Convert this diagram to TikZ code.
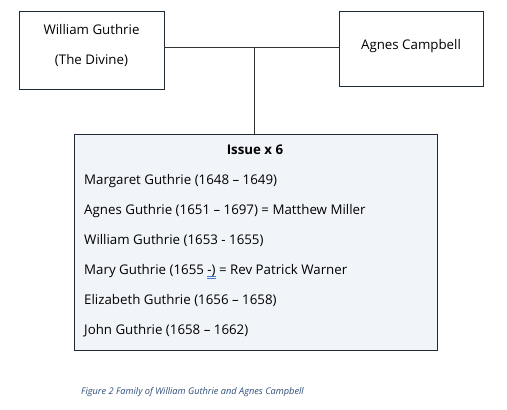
\documentclass[tikz,border=0pt]{standalone}
\usepackage{fontspec}
\setmainfont{Open Sans}
\definecolor{boxline}{HTML}{1E2A35}
\definecolor{issuefill}{HTML}{F1F4F8}
\definecolor{captioncol}{HTML}{2E4D7B}
\definecolor{markblue}{HTML}{4A78C2}
\newcommand{\dblmark}[1]{\setbox0\hbox{#1}\rlap{\color{markblue}\rule[-2.6pt]{\wd0}{0.5pt}}\rlap{\color{markblue}\rule[-4.2pt]{\wd0}{0.5pt}}\box0\relax}
\begin{document}
\begin{tikzpicture}[x=1pt,y=-1pt,
  txt/.style={font=\fontsize{13.3}{15}\selectfont,inner sep=0pt},
  person/.style={draw=boxline,line width=0.8pt,minimum width=145pt,minimum height=77pt,inner sep=0pt},
  child/.style={txt,anchor=base west},
  conn/.style={draw=black!80,line width=0.8pt}]
\useasboundingbox (0,0) rectangle (507,410);
\node[person,minimum height=78pt] (wg) at (91.5,50) {};
\node[txt,anchor=base] (wgt1) at (91.5,34) {William Guthrie};
\node[txt,anchor=base] (wgt2) at (91.5,64) {(The Divine)};
\node[person,minimum width=144pt,minimum height=75pt] (ac) at (411,48.5) {};
\node[txt,anchor=base] (act) at (411,49) {Agnes Campbell};
\node[draw=boxline,fill=issuefill,line width=0.8pt,minimum width=363pt,minimum height=216pt,inner sep=0pt] (issue) at (255.5,242) {};
\coordinate (mid) at (254,47);
\draw[conn] (wg.east |- mid) -- (ac.west |- mid);
\draw[conn] (mid) -- (mid |- issue.north);
\node[txt,anchor=base,font=\bfseries\fontsize{13.3}{15}\selectfont] (hdr) at (255,154) {Issue x 6};
\node[child] (c1) at (84,184) {Margaret Guthrie (1648 – 1649)};
\node[child] (c2) at (84,214) {Agnes Guthrie (1651 – 1697) = Matthew Miller};
\node[child] (c3) at (84,244) {William Guthrie (1653 - 1655)};
\node[child] (c4) at (84,274) {Mary Guthrie (1655 \dblmark{-)} = Rev Patrick Warner};
\node[child] (c5) at (84,304) {Elizabeth Guthrie (1656 – 1658)};
\node[child] (c6) at (84,334) {John Guthrie (1658 – 1662)};
\node[anchor=base west,inner sep=0pt,text=captioncol,font=\itshape\fontsize{9.2}{11}\selectfont] (cap) at (81,394.5) {Figure 2 Family of William Guthrie and Agnes Campbell};
\end{tikzpicture}
\end{document}
